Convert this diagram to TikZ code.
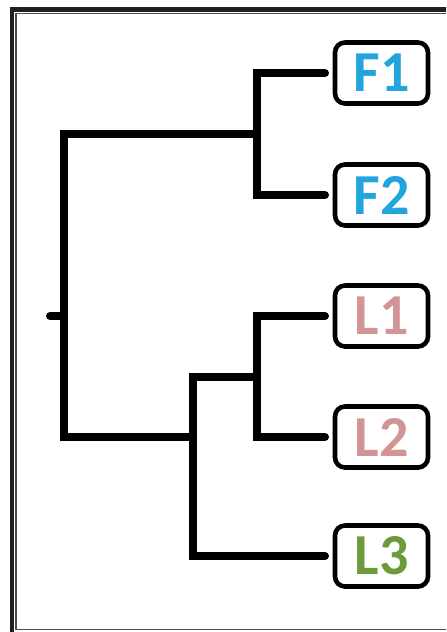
\documentclass[tikz,border=0pt]{standalone}
\usepackage{fontspec}
\setmainfont{Carlito}
\usetikzlibrary{positioning}
\definecolor{frameDark}{HTML}{231F20}
\definecolor{frameGray}{HTML}{4D4D4D}
\definecolor{featBlue}{HTML}{22A4DC}
\definecolor{lossPink}{HTML}{D29494}
\definecolor{leafGreen}{HTML}{6E9A3C}

\begin{document}
\begin{tikzpicture}[
  x=0.5pt, y=-0.5pt,
  branch/.style={line width=4pt, line cap=round, line join=miter, draw=black},
  leafBox/.style={draw=black, line width=2.3pt, rounded corners=5pt, fill=white, minimum width=46.5pt, minimum height=30.5pt, inner sep=0pt, outer sep=0pt, font=\fontsize{29}{29}\selectfont\bfseries},
  featLeaf/.style={leafBox, text=featBlue},
  lossLeaf/.style={leafBox, text=lossPink},
  greenLeaf/.style={leafBox, text=leafGreen}
]
\useasboundingbox (0,0) rectangle (446,632);
\clip (0,0) rectangle (446,632);

% frame
\draw[frameDark, line width=2.3pt] (12,9.5) rectangle (470,660);
\draw[frameGray, line width=0.7pt] (16,13.4) rectangle (460,629.5);

% leaves
\node[featLeaf] (f1) at (381.5,73) {F1};
\node[featLeaf] (f2) at (381.5,195) {F2};
\node[lossLeaf] (l1) at (381.5,316) {L1};
\node[lossLeaf] (l2) at (381.5,437) {L2};
\node[greenLeaf] (l3) at (381.5,556) {L3};

% inner splits
\coordinate (root) at (64,316);
\coordinate (stub) at (50,316);
\coordinate (fSplit) at (257,134);
\coordinate (lSplit) at (193,437);
\coordinate (lPair) at (257,377);

\draw[branch] (stub) -- (root);
\draw[branch] (root) |- (fSplit);
\draw[branch] (root) |- (lSplit);
\draw[branch] (fSplit) |- ([xshift=-5pt]f1.west);
\draw[branch] (fSplit) |- ([xshift=-5pt]f2.west);
\draw[branch] (lSplit) |- (lPair);
\draw[branch] (lSplit) |- ([xshift=-5pt]l3.west);
\draw[branch] (lPair) |- ([xshift=-5pt]l1.west);
\draw[branch] (lPair) |- ([xshift=-5pt]l2.west);
\end{tikzpicture}
\end{document}
